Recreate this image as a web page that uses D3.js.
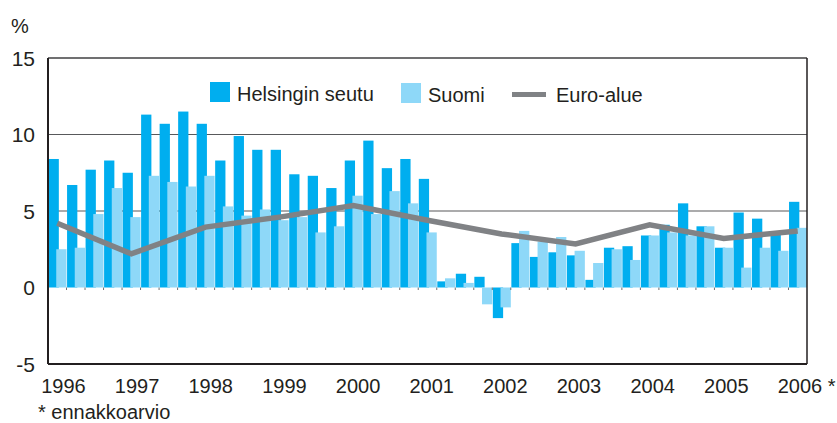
<!DOCTYPE html>
<html>
<head>
<meta charset="utf-8">
<script src="https://cdn.jsdelivr.net/npm/d3@7"></script>
<style>
  body { margin: 0; background: #fff; }
  text { font-family: 'Liberation Sans', Arial, sans-serif; fill: #231f20; }
</style>
</head>
<body>
<svg width="837" height="423"></svg>
<script>
'use strict'

// quarterly change, %, 1996 Q1 .. 2006 Q1
let years = [1996, 1997, 1998, 1999, 2000, 2001, 2002, 2003, 2004, 2005, 2006];

let helsinki = [8.4, 6.7, 7.7, 8.3, 7.5, 11.3, 10.7, 11.5, 10.7, 8.3, 9.9, 9.0,
    9.0, 7.4, 7.3, 6.5, 8.3, 9.6, 7.8, 8.4, 7.1, 0.4, 0.9, 0.7,
    -2.0, 2.9, 2.0, 2.3, 2.1, 0.5, 2.6, 2.7, 3.4, 4.1, 5.5, 4.0,
    2.6, 4.9, 4.5, 3.5, 5.6];

let suomi = [2.5, 2.6, 4.8, 6.5, 4.6, 7.3, 6.9, 6.6, 7.3, 5.3, 4.7, 5.1,
    4.4, 4.6, 3.6, 4.0, 6.0, 4.8, 6.3, 5.5, 3.6, 0.6, 0.3, -1.1,
    -1.3, 3.7, 3.0, 3.3, 2.4, 1.6, 2.5, 1.8, 3.4, 3.6, 3.4, 4.0,
    2.6, 1.3, 2.6, 2.4, 3.9];

// euro area, first quarter of each year
let euro = [4.2, 2.2, 3.95, 4.6, 5.35, 4.4, 3.5, 2.85, 4.1, 3.2, 3.7];

let yTicks = [-5, 0, 5, 10, 15];

let quarters = helsinki.map(function(d, i) {
    return (1996 + Math.floor(i / 4)) + 'Q' + (i % 4 + 1);
});

let svg = d3.select('svg');
let pLeft = 48, pRight = 807, pTop = 58, pBottom = 364;

let x = d3.scaleBand().domain(quarters).range([pLeft, pRight]).padding(0);
let y = d3.scaleLinear().domain([-5, 15]).range([pBottom, pTop]);
let yearX = d3.scaleLinear().domain([1996, 2006]).range([63, 799.5]);
let bw = x.bandwidth();

// grid lines at 5 and 10
svg.append('g')
    .selectAll('line')
    .data([5, 10])
    .enter().append('line')
    .attr('x1', pLeft).attr('x2', pRight)
    .attr('y1', function(d) { return y(d); })
    .attr('y2', function(d) { return y(d); })
    .attr('stroke', '#58595b')
    .attr('stroke-width', 1.2);

// bars, dark then light per quarter
let bars = svg.append('g');
quarters.forEach(function(q, i) {
    bars.append('rect')
        .attr('x', x(q) + bw * 0.03)
        .attr('width', bw * 0.555)
        .attr('y', y(Math.max(0, helsinki[i])))
        .attr('height', Math.abs(y(helsinki[i]) - y(0)))
        .attr('fill', '#00aeef');
    bars.append('rect')
        .attr('x', x(q) + bw * 0.445)
        .attr('width', bw * 0.555)
        .attr('y', y(Math.max(0, suomi[i])))
        .attr('height', Math.abs(y(suomi[i]) - y(0)))
        .attr('fill', '#8ed8f8');
});

// small category ticks on zero line
svg.append('g')
    .selectAll('line')
    .data(quarters.slice(1))
    .enter().append('line')
    .attr('x1', function(d) { return x(d); })
    .attr('x2', function(d) { return x(d); })
    .attr('y1', y(0))
    .attr('y2', y(0) + 2.5)
    .attr('stroke', '#6d6e71')
    .attr('stroke-width', 1);

// euro area line
let line = d3.line()
    .x(function(d, i) { return x(years[i] + 'Q1') + bw / 2; })
    .y(function(d) { return y(d); });

svg.append('path')
    .datum(euro)
    .attr('d', line)
    .attr('fill', 'none')
    .attr('stroke', '#808285')
    .attr('stroke-width', 5.5)
    .attr('stroke-linejoin', 'miter');

// frame
svg.append('line').attr('x1', pLeft).attr('x2', pRight).attr('y1', pTop).attr('y2', pTop)
    .attr('stroke', '#414042').attr('stroke-width', 1.3);
svg.append('line').attr('x1', pRight).attr('x2', pRight).attr('y1', pTop).attr('y2', pBottom)
    .attr('stroke', '#231f20').attr('stroke-width', 1.5);
svg.append('line').attr('x1', pLeft).attr('x2', pRight).attr('y1', pBottom).attr('y2', pBottom)
    .attr('stroke', '#231f20').attr('stroke-width', 2);
svg.append('line').attr('x1', pLeft).attr('x2', pLeft).attr('y1', pTop).attr('y2', pBottom)
    .attr('stroke', '#231f20').attr('stroke-width', 2);

// y labels
svg.append('g')
    .selectAll('text')
    .data(yTicks)
    .enter().append('text')
    .attr('x', 35)
    .attr('y', function(d) { return y(d) + 7.5; })
    .attr('text-anchor', 'end')
    .style('font-size', '21px')
    .text(function(d) { return d; });

svg.append('text')
    .attr('x', 11).attr('y', 33)
    .style('font-size', '20px')
    .text('%');

// year labels
svg.append('g')
    .selectAll('text')
    .data(years)
    .enter().append('text')
    .attr('x', function(d) { return yearX(d) - 21.8; })
    .attr('y', 393)
    .style('font-size', '20px')
    .text(function(d) { return d === 2006 ? '2006 *' : d; });

svg.append('text')
    .attr('x', 38).attr('y', 419)
    .style('font-size', '20px')
    .text('* ennakkoarvio');

// legend
let legend = svg.append('g');
legend.append('rect').attr('x', 210).attr('y', 82).attr('width', 20).attr('height', 20).attr('fill', '#00aeef');
legend.append('text').attr('x', 237).attr('y', 101).style('font-size', '20px').text('Helsingin seutu');
legend.append('rect').attr('x', 401).attr('y', 83).attr('width', 20).attr('height', 20).attr('fill', '#8ed8f8');
legend.append('text').attr('x', 428).attr('y', 102).style('font-size', '20px').text('Suomi');
legend.append('line').attr('x1', 512).attr('x2', 546).attr('y1', 94.5).attr('y2', 94.5)
    .attr('stroke', '#808285').attr('stroke-width', 5);
legend.append('text').attr('x', 556).attr('y', 102).style('font-size', '20px').text('Euro-alue');
</script>
</body>
</html>
